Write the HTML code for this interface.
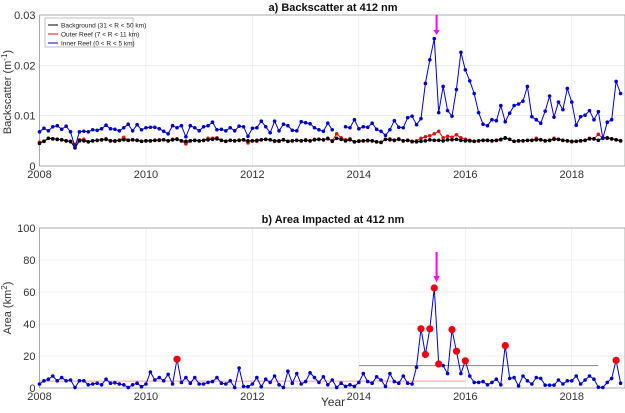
<!DOCTYPE html>
<html><head><meta charset="utf-8"><style>
body{margin:0;background:#fff;font-family:"Liberation Sans",sans-serif}
svg text{font-family:"Liberation Sans",sans-serif}
</style></head><body>
<svg id="c" width="625" height="408"></svg>
<script>
const blueA=[6.8,7.5,7.0,7.8,8.0,7.3,7.9,6.8,3.8,6.8,6.9,6.8,
7.2,7.1,7.4,8.1,7.4,7.3,7.0,7.6,8.3,7.0,8.2,7.2,
7.6,7.7,7.7,7.4,6.9,6.4,8.0,7.6,8.0,5.8,8.0,7.6,
7.0,7.8,8.0,8.7,7.2,7.3,7.0,7.6,7.0,7.9,7.8,5.9,
7.5,7.6,8.9,7.8,6.6,8.9,7.0,8.3,8.0,7.1,7.0,8.8,
8.6,8.4,7.6,7.2,6.9,8.5,7.2,null,null,7.8,7.6,9.2,
7.4,7.8,7.7,8.5,7.3,6.9,6.1,7.2,9.0,7.7,7.6,9.6,
9.9,8.2,9.4,16.4,21.1,25.3,10.6,15.8,11.0,9.9,15.2,22.6,
19.1,16.9,14.4,10.6,8.3,8.0,9.2,9.0,12.0,8.8,10.5,12.0,
12.3,12.9,15.8,9.8,9.2,8.5,10.9,13.9,9.7,12.7,11.2,15.4,
12.7,8.1,9.8,10.1,11.0,9.2,10.8,5.5,8.7,9.2,16.8,14.4];
const blackA=[4.5,4.9,5.5,5.4,5.3,5.2,5.0,4.9,3.6,5.0,5.0,4.8,
5.0,5.1,5.2,5.3,5.0,5.0,5.1,5.2,5.1,5.2,5.1,4.9,
5.0,5.0,5.1,5.1,5.2,5.0,5.2,5.3,5.0,4.9,5.0,5.1,
5.0,5.1,5.2,5.3,5.4,5.1,4.9,5.1,5.0,5.1,5.2,5.0,
5.0,5.1,5.2,5.3,5.2,5.0,5.0,5.2,4.9,5.0,5.1,5.0,
5.1,5.0,5.2,5.3,5.2,5.5,4.9,5.5,5.3,5.0,5.2,4.8,
4.9,5.0,5.1,5.0,4.8,4.7,5.3,5.2,5.1,5.3,5.0,5.1,
4.9,4.8,4.9,5.0,5.2,5.1,5.1,5.0,5.2,5.2,5.3,5.1,
5.0,5.0,4.9,5.0,5.1,5.1,5.0,5.1,5.3,5.6,5.3,4.9,
5.0,5.0,5.1,5.1,5.2,5.2,5.0,5.1,5.3,5.3,5.1,5.0,
4.9,4.9,5.0,5.1,5.4,5.4,5.1,5.6,5.6,5.4,5.2,5.0];
const redA=[4.7,4.9,5.5,5.4,5.3,5.2,5.0,4.8,4.3,5.2,5.3,4.8,
5.0,5.1,5.2,5.4,5.0,4.9,5.1,5.7,5.1,5.2,5.1,4.9,
5.0,5.0,5.1,5.2,5.2,5.0,5.3,5.4,5.0,4.4,5.0,5.1,
5.0,5.1,5.5,5.5,5.6,5.1,4.9,5.1,5.0,5.1,5.2,4.6,
5.0,4.9,5.2,5.3,5.2,4.9,4.9,5.2,4.9,5.0,5.1,5.0,
5.2,5.0,5.3,5.3,5.2,5.4,5.0,6.4,5.6,5.2,5.4,4.8,
5.0,5.0,5.0,5.0,4.8,4.7,5.3,5.4,5.1,5.4,5.0,5.1,
4.8,5.0,5.5,5.8,6.0,6.4,6.9,5.6,5.9,5.7,6.2,5.6,
5.3,5.1,4.9,5.0,5.1,5.1,5.0,5.1,5.2,5.5,5.3,4.9,
5.0,5.0,5.1,5.1,5.5,5.2,5.0,5.1,5.5,5.3,5.1,5.0,
4.8,4.9,5.0,5.1,5.5,5.4,6.3,5.5,5.5,5.4,5.2,5.0];
const areaA=[2.5,4.5,5.5,7.5,4.5,6.5,4.5,5,0.3,4.5,4.5,2,
2.5,3,2,5.5,3,3.3,2.5,2,0.3,2,3,0.8,
2.5,10,5,6.5,4.5,8.5,2.5,18,3.5,6.5,3,6.5,
2.5,2.5,3.5,4,6.5,3,2.5,4.5,0.3,12.5,1,0.8,
2.5,6.5,0.8,5.5,3.5,7.5,2,0.3,10.5,3,9,2.5,
4,9.5,6.5,3.5,7,2,5,0.3,3,1,2,1,
3.5,9,4,3,7,5,1,9,4,3,7.5,3,
2.5,13,37,21,37,62.5,15,14,9,36.5,23,9,
17,7.5,3.5,3.5,4,2,3.5,5.5,2,26.5,6,6.5,
1.3,7.5,4.5,2.5,6.5,6,1.8,1.8,1.8,5,2.5,4.5,
4.5,7.5,2.5,5,7.5,5.5,0.5,0.3,3.5,6,17.3,3];
const yearTicks=[2008,2010,2012,2014,2016,2018];
const topTicks=[0,0.01,0.02,0.03];
const botTicks=[0,20,40,60,80,100];
const legendLabels=["Background (31 < R < 50 km)","Outer Reef (7 < R < 11 km)","Inner Reef (0 < R < 5 km)"];
const threshold=14.5;
const eventTime=2015.46;

const NS="http://www.w3.org/2000/svg",svg=document.getElementById('c');
function el(t,a,p){const e=document.createElementNS(NS,t);for(const k in a)e.setAttribute(k,a[k]);(p||svg).appendChild(e);return e;}
const X0=39.5,X1=625;
const xs=t=>X0+(t-2008)/11*(X1-X0);
const yTop=v=>166-v/0.03*151;
const yBot=v=>388-v/100*160;

function axes(yf,ticks,top,bot,fmt,name){
  const g=el('g',{});
  
  
  ticks.forEach(v=>{el('line',{x1:X0,x2:X1,y1:yf(v),y2:yf(v),stroke:'#e6e6e6','stroke-width':0.6},g);
    const t=el('text',{x:X0-4,y:yf(v)+4,'text-anchor':'end','font-size':11,fill:'#333'},g);t.textContent=fmt(v);});
  yearTicks.forEach(y=>{el('line',{x1:xs(y),x2:xs(y),y1:top,y2:bot,stroke:'#e6e6e6','stroke-width':0.6},g);
    const t=el('text',{x:xs(y),y:bot+12,'text-anchor':'middle','font-size':11,fill:'#333'},g);t.textContent=y;});
  el('rect',{x:X0,y:top,width:X1-X0,height:bot-top,fill:'none',stroke:'#999','stroke-width':0.8},g);
}
axes(yTop,topTicks,15,166,v=>v===0?'0':v.toFixed(2),'top-axes');
axes(yBot,botTicks,228,388,v=>String(v),'bottom-axes');

function series(arr,yf,color,name,r){
  const g=el('g',{});
  
  
  let d='',pen=false;
  arr.forEach((v,i)=>{if(v==null){pen=false;return;}const x=xs(2008+i/12),y=yf(v);d+=(pen?'L':'M')+x.toFixed(1)+' '+y.toFixed(1);pen=true;});
  el('path',{d,fill:'none',stroke:color,'stroke-width':1},g);
  arr.forEach((v,i)=>{if(v==null)return;el('circle',{cx:xs(2008+i/12),cy:yf(v),r:r,fill:color},g);});
}
series(redA.map(v=>v/1000),yTop,'#e01010','outer-reef-series',1.8);
series(blackA.map(v=>v/1000),yTop,'#000','background-series',1.8);
series(blueA.map(v=>v==null?null:v/1000),yTop,'#0000d0','inner-reef-series',1.8);

el('line',{x1:xs(2008),x2:xs(2016),y1:yBot(4.3),y2:yBot(4.3),stroke:'#f0a0a0','stroke-width':1,});
el('line',{x1:xs(2014),x2:xs(2018.5),y1:yBot(14),y2:yBot(14),stroke:'#888','stroke-width':1,});
series(areaA,yBot,'#0000d0','area-series',1.8);
const hg=el('g',{});


areaA.forEach((v,i)=>{if(v>threshold)el('circle',{cx:xs(2008+i/12),cy:yBot(v),r:3.6,fill:'#f00010'},hg);});

const ax=xs(eventTime);
el('line',{x1:ax,x2:ax,y1:15,y2:31,stroke:'#ff00ff','stroke-width':2,});
el('path',{d:`M${ax-3} 30 L${ax+3} 30 L${ax} 35Z`,fill:'#ff00ff'});
el('line',{x1:ax,x2:ax,y1:yBot(85),y2:yBot(70),stroke:'#ff00ff','stroke-width':2,});
el('path',{d:`M${ax-3} ${yBot(70)} L${ax+3} ${yBot(70)} L${ax} ${yBot(66)}Z`,fill:'#ff00ff'});

const lg=el('g',{});


el('rect',{x:45,y:18,width:88,height:29,fill:'#fff',stroke:'#999','stroke-width':0.6},lg);
const lc=['#000','#e01010','#0000d0'];
legendLabels.forEach((s,i)=>{const y=25+i*9;
  el('line',{x1:48,x2:58,y1:y,y2:y,stroke:lc[i],'stroke-width':1},lg);
  const t=el('text',{x:61,y:y+2.5,'font-size':6.5,fill:'#222'},lg);t.textContent=s;});

function txt(s,a,name){const t=el('text',a);t.textContent=s;return t;}
txt('a) Backscatter at 412 nm',{x:333,y:11,'text-anchor':'middle','font-size':11,'font-weight':'bold',fill:'#111'},'top-title');
txt('b) Area Impacted at 412 nm',{x:333,y:223,'text-anchor':'middle','font-size':11,'font-weight':'bold',fill:'#111'},'bottom-title');
const yl1=txt('',{transform:'translate(11,92) rotate(-90)','text-anchor':'middle','font-size':11,fill:'#333'},'top-y-title');
yl1.innerHTML='Backscatter (m<tspan dy="-4" font-size="8">-1</tspan><tspan dy="4">)</tspan>';
const yl2=txt('',{transform:'translate(11,308) rotate(-90)','text-anchor':'middle','font-size':11,fill:'#333'},'bottom-y-title');
yl2.innerHTML='Area (km<tspan dy="-4" font-size="8">2</tspan><tspan dy="4">)</tspan>';
txt('Year',{x:333,y:406,'text-anchor':'middle','font-size':12,fill:'#333'},'x-axis-title');
</script>
</body></html>
